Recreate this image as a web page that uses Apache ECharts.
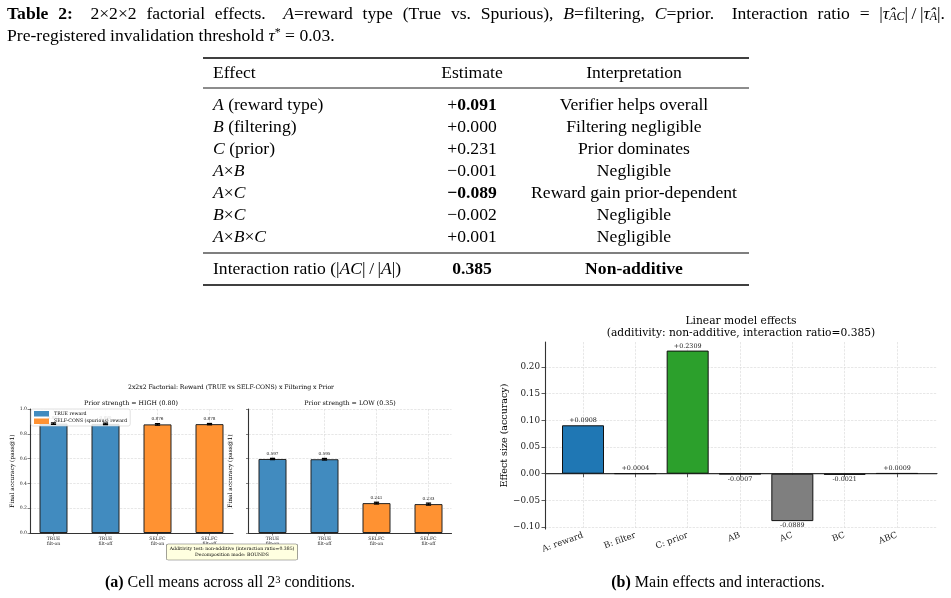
<!DOCTYPE html>
<html>
<head>
<meta charset="utf-8">
<script src="https://cdn.jsdelivr.net/npm/echarts@6/dist/echarts.min.js"></script>
<style>
html, body { margin: 0; padding: 0; background: #fff; }
#main { width: 951px; height: 598px; }
</style>
</head>
<body>
<div id="main"></div>
<script>
// ---- Table 2 ----
var effectNames = ['{i|A} (reward type)', '{i|B} (filtering)', '{i|C} (prior)', '{i|A}×{i|B}', '{i|A}×{i|C}', '{i|B}×{i|C}', '{i|A}×{i|B}×{i|C}'];
var estimates = [0.091, 0.000, 0.231, -0.001, -0.089, -0.002, 0.001];
var boldRows = [true, false, false, false, true, false, false];
var interpretations = ['Verifier helps overall', 'Filtering negligible', 'Prior dominates', 'Negligible', 'Reward gain prior-dependent', 'Negligible', 'Negligible'];
var ratioLabel = 'Interaction ratio (|{i|AC}|\u2009/\u2009|{i|A}|)';
var ratioValue = '0.385';
var ratioVerdict = 'Non-additive';
var captionWords = ['{b|Table}', '{b|2:}', '2×2×2', 'factorial', 'effects.', '{i|A}=reward', 'type', '(True', 'vs.', 'Spurious),',
    '{i|B}=filtering,', '{i|C}=prior.', 'Interaction', 'ratio', '=', '|{i|τ̂}{sub|AC}|\u2009/\u2009|{i|τ̂}{sub|A}|.'];
var captionLine2 = 'Pre-registered invalidation threshold {i|τ}{sup|*} = 0.03.';

// ---- (a) cell means ----
var cellLabels = ['TRUE\nfilt-on', 'TRUE\nfilt-off', 'SELFC\nfilt-on', 'SELFC\nfilt-off'];
var highMeans = [0.882, 0.880, 0.876, 0.878];
var highErr = [0.006, 0.006, 0.006, 0.005];
var lowMeans = [0.597, 0.595, 0.241, 0.233];
var lowErr = [0.005, 0.006, 0.007, 0.008];

// ---- (b) effects ----
var effectCats = ['A: reward', 'B: filter', 'C: prior', 'AB', 'AC', 'BC', 'ABC'];
var effectVals = [0.0908, 0.0004, 0.2309, -0.0007, -0.0889, -0.0021, 0.0009];
var effectColors = ['#1f77b4', '#ff7f0e', '#2ca02c', '#7f7f7f', '#7f7f7f', '#7f7f7f', '#7f7f7f'];
var zeroLine = [[0, 0], [1, 0]];

var SERIF = 'Liberation Serif';
var PLOT = 'DejaVu Serif';
var FS = 17.6;
var CAP = 16;

var myChart = echarts.init(document.getElementById('main'));

var richTex = {
    i: { fontStyle: 'italic', fontSize: FS, fontFamily: SERIF },
    b: { fontWeight: 'bold', fontSize: FS, fontFamily: SERIF },
    sub: { fontStyle: 'italic', fontSize: 12, fontFamily: SERIF, verticalAlign: 'bottom' },
    sup: { fontSize: 12, fontFamily: SERIF, verticalAlign: 'top' }
};

function txt(x, y, text, size, align, extra) {
    var style = {
        text: text, x: 0, y: 0, fill: '#000',
        fontSize: size, fontFamily: SERIF,
        align: align || 'left', verticalAlign: 'middle',
        rich: richTex
    };
    if (extra) { for (var k in extra) style[k] = extra[k]; }
    return { type: 'text', x: x, y: y, style: style, z: 10 };
}
function rule(x1, x2, y, w) {
    return { type: 'line', shape: { x1: x1, y1: y, x2: x2, y2: y }, style: { stroke: '#000', lineWidth: w }, z: 10 };
}
function fmtEst(v, bold) {
    var num = Math.abs(v).toFixed(3);
    if (bold) return v < 0 ? '{b|−' + num + '}' : '+{b|' + num + '}';
    return (v < 0 ? '−' : '+') + num;
}

// 测量 rich 文本宽度，两端对齐（句末空格加宽）
var mctx = document.createElement('canvas').getContext('2d');
function richWidth(str) {
    var w = 0, re = /\{(\w+)\|([^}]*)\}|([^{]+)/g, m;
    while ((m = re.exec(str)) !== null) {
        var key = m[1], t = m[1] ? m[2] : m[3];
        var st = key ? richTex[key] : {};
        mctx.font = (st.fontStyle || 'normal') + ' ' + (st.fontWeight || 'normal') + ' ' + (st.fontSize || FS) + 'px "' + SERIF + '"';
        w += mctx.measureText(t).width;
    }
    return w;
}
function justify(words, x0, x1, y) {
    var widths = words.map(richWidth);
    var weights = words.map(function (w, k) {
        if (k === words.length - 1) return 0;
        return /[.:]\}?$/.test(w) && w !== 'vs.' ? 1.8 : 1;
    });
    var total = widths.reduce(function (a, b) { return a + b; }, 0);
    var wsum = weights.reduce(function (a, b) { return a + b; }, 0);
    var unit = (x1 - x0 - total) / wsum;
    var out = [], x = x0;
    for (var k = 0; k < words.length; k++) {
        out.push(txt(x, y, words[k], FS));
        x += widths[k] + weights[k] * unit;
    }
    return out;
}

var TL = 203, TR = 749, EST = 472, INT = 634;

var graphics = justify(captionWords, 7, 945, 14).concat([
    txt(7, 36, captionLine2, FS),
    rule(TL, TR, 58, 1.6),
    txt(213, 73, 'Effect', FS),
    txt(EST, 73, 'Estimate', FS, 'center'),
    txt(INT, 73, 'Interpretation', FS, 'center'),
    rule(TL, TR, 88, 0.9),
    rule(TL, TR, 253, 1.2),
    txt(213, 269, ratioLabel, FS),
    txt(EST, 269, '{b|' + ratioValue + '}', FS, 'center'),
    txt(INT, 269, '{b|' + ratioVerdict + '}', FS, 'center'),
    rule(TL, TR, 285, 1.6)
]);
for (var r = 0; r < effectNames.length; r++) {
    var yy = 105 + r * 22;
    graphics.push(txt(213, yy, effectNames[r], FS));
    graphics.push(txt(EST, yy, fmtEst(estimates[r], boldRows[r]), FS, 'center'));
    graphics.push(txt(INT, yy, interpretations[r], FS, 'center'));
}
// plot texts
function ptxt(x, y, text, size, extra) {
    var style = { text: text, x: 0, y: 0, fill: '#000', fontSize: size, fontFamily: PLOT, align: 'center', verticalAlign: 'middle' };
    if (extra) { for (var k in extra) style[k] = extra[k]; }
    return { type: 'text', x: x, y: y, style: style, z: 10 };
}
graphics.push(ptxt(231, 387, '2x2x2 Factorial: Reward (TRUE vs SELF-CONS) x Filtering x Prior', 6.1));
graphics.push(ptxt(131, 403, 'Prior strength = HIGH (0.80)', 6.3));
graphics.push(ptxt(350, 403, 'Prior strength = LOW (0.35)', 6.3));
graphics.push(ptxt(232, 552, 'Additivity test: non-additive (interaction ratio=0.385)\nDecomposition mode: BOUNDS', 4.6, {
    backgroundColor: '#ffffe0', borderColor: '#666', borderWidth: 0.6, borderRadius: 1.5,
    padding: [1.5, 3], lineHeight: 6.2
}));
graphics.push(ptxt(741, 321, 'Linear model effects', 10.7));
graphics.push(ptxt(741, 333.5, '(additivity: non-additive, interaction ratio=0.385)', 10.7));
graphics.push(txt(230, 583, '{bb|(a)} Cell means across all 2{sp|3} conditions.', CAP, 'center', {
    rich: { bb: { fontWeight: 'bold', fontSize: CAP, fontFamily: SERIF }, sp: { fontSize: 10.5, fontFamily: SERIF, verticalAlign: 'top' } }
}));
graphics.push(txt(718, 583, '{bb|(b)} Main effects and interactions.', CAP, 'center', {
    rich: { bb: { fontWeight: 'bold', fontSize: CAP, fontFamily: SERIF } }
}));

var gridLine = { show: true, lineStyle: { color: '#d6d6d6', type: 'dashed', width: 0.6 } };
var spine = { show: true, lineStyle: { color: '#333', width: 1.1 } };

function outerX(grid) {
    return { gridIndex: grid, type: 'value', min: 0, max: 1, axisLine: spine, axisTick: { show: false }, axisLabel: { show: false }, splitLine: { show: false } };
}
function innerXA(grid) {
    return {
        gridIndex: grid, type: 'value', min: 0, max: 3, interval: 1,
        axisLine: { show: false }, axisTick: { show: true, length: 2.5, lineStyle: { color: '#333', width: 0.6 } },
        axisLabel: { fontSize: 4.6, fontFamily: PLOT, color: '#222', margin: 3, lineHeight: 5.4, formatter: function (v) { return cellLabels[v] || ''; } },
        splitLine: gridLine
    };
}
function outerYA(grid, showLabels) {
    return {
        gridIndex: grid, type: 'value', min: 0, max: 1, interval: 0.2,
        name: 'Final accuracy (pass@1)', nameLocation: 'middle', nameGap: 15, nameRotate: 90,
        nameTextStyle: { fontSize: 5.9, fontFamily: PLOT, color: '#000' },
        axisLine: spine, axisTick: { show: true, length: 2.5, lineStyle: { color: '#333', width: 0.6 } },
        axisLabel: { show: showLabels, fontSize: 4.6, fontFamily: PLOT, color: '#222', margin: 3, formatter: function (v) { return v.toFixed(1); } },
        splitLine: gridLine
    };
}
function hiddenY(grid, min, max) {
    return { gridIndex: grid, type: 'value', min: min, max: max, show: false, splitLine: { show: false } };
}

var YMIN = -0.1037, YMAX = 0.247;

function errorBar(params, api) {
    var x = api.value(0), v = api.value(1), e = api.value(2);
    var top = api.coord([x, v + e]), bot = api.coord([x, v - e]);
    var cap = 2.6;
    var st = { stroke: '#000', lineWidth: 1.3 };
    return {
        type: 'group', children: [
            { type: 'line', shape: { x1: top[0], y1: top[1], x2: bot[0], y2: bot[1] }, style: st },
            { type: 'line', shape: { x1: top[0] - cap, y1: top[1], x2: top[0] + cap, y2: top[1] }, style: st },
            { type: 'line', shape: { x1: bot[0] - cap, y1: bot[1], x2: bot[0] + cap, y2: bot[1] }, style: st }
        ]
    };
}

var cellLabel = {
    show: true, position: 'top', distance: 3.5, fontSize: 4.2, fontFamily: PLOT, color: '#222',
    formatter: function (p) { return p.value[1].toFixed(3); }
};
function cellBars(name, xi, yi, means, from, to, color) {
    var data = [];
    for (var i = from; i < to; i++) data.push([i, means[i]]);
    return {
        name: name, type: 'bar', xAxisIndex: xi, yAxisIndex: yi, data: data,
        barWidth: 28, barGap: '-100%', clip: false,
        itemStyle: { color: color, borderColor: '#222', borderWidth: 1 },
        label: cellLabel
    };
}
function errSeries(xi, yi, means, errs) {
    return {
        type: 'custom', xAxisIndex: xi, yAxisIndex: yi, z: 5, clip: false,
        encode: { x: 0, y: 1 },
        data: means.map(function (m, i) { return [i, m, errs[i]]; }),
        renderItem: errorBar
    };
}

var BLUE = '#418bbf', ORANGE = '#ff9232';

option = {
    animation: false,
    backgroundColor: '#fff',
    grid: [
        { left: 30, top: 409, width: 203, height: 124, outerBoundsMode: 'none' },
        { left: 53.5, top: 409, width: 156, height: 124, outerBoundsMode: 'none' },
        { left: 248.5, top: 409, width: 203, height: 124, outerBoundsMode: 'none' },
        { left: 272.5, top: 409, width: 156, height: 124, outerBoundsMode: 'none' },
        { left: 545, top: 342, width: 392, height: 187, outerBoundsMode: 'none' },
        { left: 583, top: 342, width: 314, height: 187, outerBoundsMode: 'none' }
    ],
    legend: {
        data: ['TRUE reward', 'SELF-CONS (spurious) reward'],
        orient: 'vertical', left: 31, top: 409,
        itemWidth: 15, itemHeight: 5.5, itemGap: 2,
        icon: 'rect',
        itemStyle: { borderWidth: 0 },
        textStyle: { fontSize: 4.7, fontFamily: PLOT, color: '#000' },
        backgroundColor: 'rgba(255,255,255,0.85)', borderColor: '#ccc', borderWidth: 0.6, borderRadius: 2,
        padding: [2, 3]
    },
    xAxis: [
        outerX(0), innerXA(1), outerX(2), innerXA(3), outerX(4),
        {
            gridIndex: 5, type: 'value', min: 0, max: 6, interval: 1,
            axisLine: { show: false }, axisTick: { show: true, length: 3.5, lineStyle: { color: '#333', width: 0.8 } },
            axisLabel: { rotate: 20, fontSize: 8.6, fontFamily: PLOT, color: '#222', margin: 6, formatter: function (v) { return effectCats[v] || ''; } },
            splitLine: gridLine
        }
    ],
    yAxis: [
        outerYA(0, true), hiddenY(1, 0, 1), outerYA(2, false), hiddenY(3, 0, 1),
        {
            gridIndex: 4, type: 'value', min: YMIN, max: YMAX, minInterval: 0.05, maxInterval: 0.05, splitNumber: 7,
            name: 'Effect size (accuracy)', nameLocation: 'middle', nameGap: 35, nameRotate: 90,
            nameTextStyle: { fontSize: 9.5, fontFamily: PLOT, color: '#000' },
            axisLine: spine, axisTick: { show: true, length: 3.5, lineStyle: { color: '#333', width: 0.8 } },
            axisLabel: {
                fontSize: 8.8, fontFamily: PLOT, color: '#222', margin: 5, showMinLabel: false, showMaxLabel: false,
                formatter: function (v) { return (v < -1e-9 ? '−' + Math.abs(v).toFixed(2) : Math.abs(v).toFixed(2)); }
            },
            splitLine: { show: true, showMinLine: false, showMaxLine: false, lineStyle: { color: '#d6d6d6', type: 'dashed', width: 0.6 } }
        },
        hiddenY(5, YMIN, YMAX)
    ],
    series: [
        cellBars('TRUE reward', 1, 1, highMeans, 0, 2, BLUE),
        cellBars('SELF-CONS (spurious) reward', 1, 1, highMeans, 2, 4, ORANGE),
        errSeries(1, 1, highMeans, highErr),
        cellBars('TRUE reward', 3, 3, lowMeans, 0, 2, BLUE),
        cellBars('SELF-CONS (spurious) reward', 3, 3, lowMeans, 2, 4, ORANGE),
        errSeries(3, 3, lowMeans, lowErr),
        {
            type: 'line', xAxisIndex: 4, yAxisIndex: 4, data: zeroLine, showSymbol: false, z: 3,
            lineStyle: { color: '#333', width: 1.1 }, silent: true
        },
        {
            type: 'bar', xAxisIndex: 5, yAxisIndex: 5, barWidth: 42, clip: false, z: 4,
            data: effectVals.map(function (v, i) {
                return {
                    value: [i, v],
                    itemStyle: { color: effectColors[i] },
                    label: { position: v >= 0 ? 'top' : 'bottom' }
                };
            }),
            itemStyle: { borderColor: '#111', borderWidth: 1 },
            label: {
                show: true, fontSize: 6.4, fontFamily: PLOT, color: '#222', distance: 1.5,
                formatter: function (p) { var v = p.value[1]; return (v >= 0 ? '+' : '-') + Math.abs(v).toFixed(4); }
            }
        }
    ],
    graphic: graphics
};

myChart.setOption(option);
</script>
</body>
</html>
